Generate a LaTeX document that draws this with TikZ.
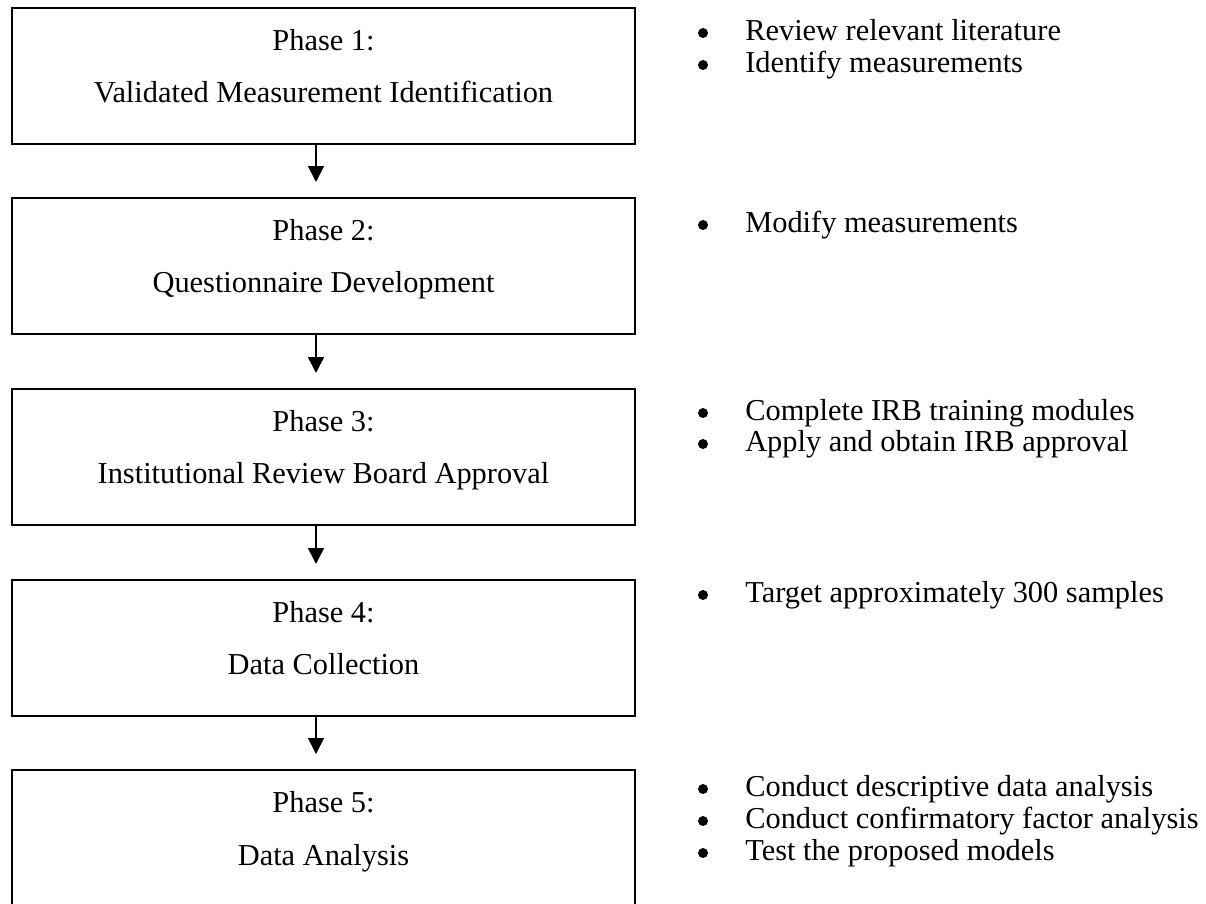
\documentclass[tikz,border=0pt]{standalone}
\usepackage{fontspec}
\setmainfont{Liberation Serif}
\usetikzlibrary{calc,arrows.meta}
\begin{document}
\begin{tikzpicture}[x=0.75pt,y=-0.75pt,
  phase/.style={draw, line width=1.5pt, minimum width=467.25pt,
    minimum height=102pt, anchor=north west, inner sep=0pt},
  ptext/.style={anchor=base, inner sep=0pt,
    font=\fontsize{22.8}{26}\selectfont},
  item/.style={anchor=base west, inner sep=0pt,
    font=\fontsize{22.8}{26}\selectfont},
  dot/.style={circle, fill=black, draw=none, inner sep=0pt,
    minimum size=7.5pt},
  arr/.style={line width=1.3pt, -{Triangle[length=12pt,width=12pt]}}]
\useasboundingbox (0,0) rectangle (1206,903);

% phase boxes
\node[phase] (b1) at (11,7) {};
\node[phase] (b2) at (11,197) {};
\node[phase] (b3) at (11,388) {};
\node[phase] (b4) at (11,579) {};
\node[phase, minimum height=105pt] (b5) at (11,769) {};

% box captions
\node[ptext] (t1a) at ($(b1.north)+(0,43)$) {Phase 1:};
\node[ptext] (t1b) at ($(b1.north)+(0,95)$) {Validated Measurement Identification};
\node[ptext] (t2a) at ($(b2.north)+(0,43)$) {Phase 2:};
\node[ptext] (t2b) at ($(b2.north)+(0,95)$) {Questionnaire Development};
\node[ptext] (t3a) at ($(b3.north)+(0,43)$) {Phase 3:};
\node[ptext] (t3b) at ($(b3.north)+(0,95)$) {Institutional Review Board Approval};
\node[ptext] (t4a) at ($(b4.north)+(0,43)$) {Phase 4:};
\node[ptext] (t4b) at ($(b4.north)+(0,95)$) {Data Collection};
\node[ptext] (t5a) at ($(b5.north)+(0,43)$) {Phase 5:};
\node[ptext] (t5b) at ($(b5.north)+(0,96)$) {Data Analysis};

% connectors between phases
\draw[arr] ($(b1.south)+(-7.5,0)$) -- ($(b2.north)+(-7.5,-15)$);
\draw[arr] ($(b2.south)+(-7.5,0)$) -- ($(b3.north)+(-7.5,-15)$);
\draw[arr] ($(b3.south)+(-7.5,0)$) -- ($(b4.north)+(-7.5,-15)$);
\draw[arr] ($(b4.south)+(-7.5,0)$) -- ($(b5.north)+(-7.5,-15)$);

% bullet lists
\node[dot] (d11) at (703,33) {};
\node[item] (i11) at (745,40) {Review relevant literature};
\node[dot] (d12) at (703,65) {};
\node[item] (i12) at (745,72) {Identify measurements};

\node[dot] (d21) at (703,225) {};
\node[item] (i21) at (745,232) {Modify measurements};

\node[dot] (d31) at (703,413) {};
\node[item] (i31) at (745,420) {Complete IRB training modules};
\node[dot] (d32) at (703,444) {};
\node[item] (i32) at (745,451) {Apply and obtain IRB approval};

\node[dot] (d41) at (703,595) {};
\node[item] (i41) at (745,602) {Target approximately 300 samples};

\node[dot] (d51) at (703,789) {};
\node[item] (i51) at (745,796) {Conduct descriptive data analysis};
\node[dot] (d52) at (703,821) {};
\node[item] (i52) at (745,828) {Conduct confirmatory factor analysis};
\node[dot] (d53) at (703,853) {};
\node[item] (i53) at (745,860) {Test the proposed models};
\end{tikzpicture}
\end{document}
